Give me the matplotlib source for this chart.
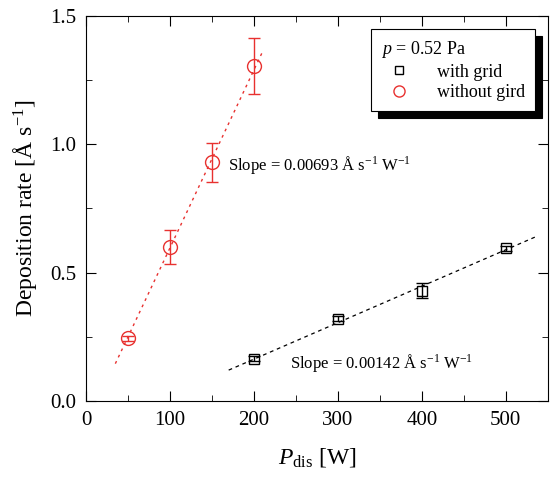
import matplotlib.pyplot as plt
import numpy as np
from matplotlib.ticker import MultipleLocator

plt.rcParams['font.family'] = ['Liberation Serif', 'DejaVu Serif']
plt.rcParams['mathtext.fontset'] = 'custom'
plt.rcParams['mathtext.rm'] = 'Liberation Serif'
plt.rcParams['mathtext.it'] = 'Liberation Serif:italic'

# data
p_grid = [200, 300, 400, 500]
rate_grid = [0.165, 0.32, 0.43, 0.595]
err_grid = [0.01, 0.01, 0.03, 0.01]

p_nogrid = [50, 100, 150, 200]
rate_nogrid = [0.245, 0.60, 0.93, 1.305]
err_nogrid = [0.01, 0.068, 0.075, 0.11]

slope_grid, icpt_grid = 0.00142, -0.121
slope_nogrid, icpt_nogrid = 0.00693, -0.097
fit_grid_x = [170, 535]
fit_nogrid_x = [35, 210]

red = '#e8312f'

fig = plt.figure(figsize=(5.51, 4.82), dpi=100)
ax = fig.add_axes([0.156, 0.168, 0.838, 0.799])

xg = np.array(fit_grid_x)
ax.plot(xg, slope_grid * xg + icpt_grid, '--', color='black', lw=0.9, dashes=(3, 3))
xn = np.array(fit_nogrid_x)
ax.plot(xn, slope_nogrid * xn + icpt_nogrid, '--', color=red, lw=1.0, dashes=(2, 3))

ax.errorbar(p_grid, rate_grid, yerr=err_grid, fmt='s', ms=7, mfc='none', mec='black',
            ecolor='black', capsize=4, elinewidth=1, mew=1, label='with grid')
ax.errorbar(p_nogrid, rate_nogrid, yerr=err_nogrid, fmt='o', ms=10, mfc='none', mec=red,
            ecolor=red, capsize=4, elinewidth=1, mew=1, label='without gird')

ax.text(169, 0.92, r'Slope = 0.00693 Å s$^{-1}$ W$^{-1}$', fontsize=12, va='center')
ax.text(243, 0.15, r'Slope = 0.00142 Å s$^{-1}$ W$^{-1}$', fontsize=12, va='center')

ax.set_xlim(0, 550)
ax.set_ylim(0, 1.5)
ax.xaxis.set_major_locator(MultipleLocator(100))
ax.xaxis.set_minor_locator(MultipleLocator(50))
ax.yaxis.set_major_locator(MultipleLocator(0.5))
ax.yaxis.set_minor_locator(MultipleLocator(0.25))
ax.yaxis.set_major_formatter(plt.FormatStrFormatter('%.1f'))
ax.tick_params(which='both', direction='in', top=True, right=True, labelsize=15, pad=7)
ax.tick_params(which='major', length=7)
ax.tick_params(which='minor', length=4)

ax.set_xlabel(r'$P_{\rm dis}$ [W]', fontsize=17, labelpad=12)
ax.set_ylabel(r'Deposition rate [Å s$^{-1}$]', fontsize=17, labelpad=8)

handles, labels = ax.get_legend_handles_labels()
handles = [h[0] for h in handles]
leg = ax.legend(handles, labels, loc='upper right', bbox_to_anchor=(0.972, 0.966),
                title=r'$p$ = 0.52 Pa', fontsize=13, title_fontsize=13,
                frameon=True, fancybox=False, edgecolor='black', framealpha=1,
                shadow={'color': 'black', 'alpha': 1, 'ox': 5, 'oy': -5},
                handletextpad=1.1, borderpad=0.55, labelspacing=0.2,
                markerscale=0.8, borderaxespad=0)
leg._legend_box.align = 'left'
leg.get_frame().set_linewidth(0.8)

fig.savefig('out.png', dpi=100)
